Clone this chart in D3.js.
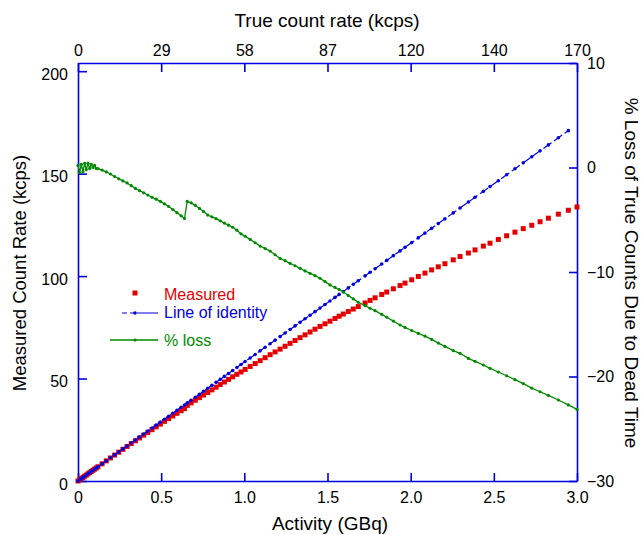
<!DOCTYPE html>
<html>
<head>
<meta charset="utf-8">
<script src="https://cdn.jsdelivr.net/npm/d3@7"></script>
<style>
body { margin: 0; background: #fff; }
text { font-family: "Liberation Sans", Arial, Helvetica, sans-serif; }
</style>
</head>
<body>
<svg></svg>
<script>
// activity of the source (GBq) at each measurement
let activity = [
    0, 0.01, 0.02, 0.03, 0.04, 0.05, 0.06, 0.07, 0.08, 0.09, 0.10, 0.11, 0.12,
    0.145, 0.17, 0.195, 0.22, 0.245, 0.27, 0.295, 0.32, 0.345, 0.37, 0.395, 0.42,
    0.445, 0.47, 0.495, 0.52, 0.545, 0.57, 0.595, 0.62, 0.64, 0.657, 0.68, 0.705,
    0.73, 0.755, 0.78, 0.805, 0.83, 0.855, 0.88, 0.905, 0.93, 0.955, 0.98,
    1.005, 1.035, 1.065, 1.095, 1.125, 1.155, 1.185, 1.215, 1.245, 1.275, 1.305,
    1.335, 1.365, 1.395, 1.425, 1.455, 1.485, 1.515, 1.545, 1.570, 1.595, 1.625,
    1.655, 1.685, 1.726, 1.756, 1.786, 1.826, 1.856, 1.896, 1.936, 1.966, 2.006,
    2.046, 2.086, 2.126, 2.166, 2.206, 2.256, 2.297, 2.347, 2.387, 2.437, 2.477,
    2.527, 2.577, 2.627, 2.677, 2.728, 2.778, 2.828, 2.888, 2.948, 3.0
];

// measured count rate (kcps)
let measured = [
    0, 0.58, 1.16, 1.73, 2.33, 2.89, 3.49, 4.06, 4.65, 5.22, 5.81, 6.37, 6.95,
    8.39, 9.82, 11.24, 12.65, 14.06, 15.46, 16.86, 18.24, 19.61, 20.98, 22.36, 23.72,
    25.07, 26.43, 27.78, 29.11, 30.43, 31.73, 33.02, 34.30, 35.31, 36.88, 38.11, 39.41,
    40.68, 41.94, 43.18, 44.49, 45.78, 47.06, 48.32, 49.59, 50.85, 52.07, 53.23,
    54.45, 55.90, 57.32, 58.73, 60.19, 61.63, 62.99, 64.34, 65.77, 67.17, 68.58,
    69.96, 71.33, 72.71, 74.10, 75.44, 76.72, 77.99, 79.32, 80.42, 81.48, 82.70,
    83.92, 85.12, 86.88, 88.13, 89.40, 91.03, 92.22, 93.80, 95.37, 96.58, 98.20,
    99.83, 101.47, 103.03, 104.52, 106.04, 107.92, 109.54, 111.26, 112.77, 114.64, 116.06,
    117.89, 119.68, 121.44, 123.16, 124.82, 126.54, 128.26, 130.23, 132.13, 133.72
];

// true count rate, line of identity (kcps)
let identity = [
    0, 0.58, 1.16, 1.74, 2.32, 2.90, 3.48, 4.06, 4.64, 5.22, 5.80, 6.38, 6.96,
    8.41, 9.86, 11.31, 12.76, 14.21, 15.66, 17.11, 18.56, 20.01, 21.46, 22.91, 24.36,
    25.81, 27.26, 28.71, 30.16, 31.61, 33.06, 34.51, 35.96, 37.12, 38.11, 39.44, 40.89,
    42.34, 43.79, 45.24, 46.69, 48.14, 49.59, 51.04, 52.49, 53.94, 55.39, 56.84,
    58.29, 60.03, 61.77, 63.51, 65.25, 66.99, 68.73, 70.47, 72.21, 73.95, 75.69,
    77.43, 79.17, 80.91, 82.65, 84.39, 86.13, 87.87, 89.61, 91.06, 92.51, 94.25,
    95.99, 97.73, 100.11, 101.85, 103.59, 105.91, 107.65, 109.97, 112.29, 114.03, 116.35,
    118.67, 120.99, 123.31, 125.63, 127.95, 130.85, 133.23, 136.13, 138.45, 141.35, 143.67,
    146.57, 149.47, 152.37, 155.27, 158.22, 161.12, 164.02, 167.50, 170.98, 174.00
];

// % loss of true counts due to dead time
let loss = [
    0.2, -0.5, 0.3, -0.4, 0.4, -0.2, 0.4, -0.1, 0.3, 0.0, 0.2, -0.1, -0.1,
    -0.25, -0.42, -0.62, -0.86, -1.08, -1.28, -1.48, -1.74, -2.0, -2.22, -2.42, -2.63,
    -2.85, -3.03, -3.24, -3.48, -3.73, -4.02, -4.32, -4.62, -4.88, -3.24, -3.38, -3.62,
    -3.92, -4.22, -4.55, -4.72, -4.90, -5.10, -5.32, -5.52, -5.72, -6.00, -6.35,
    -6.58, -6.88, -7.20, -7.52, -7.75, -8.00, -8.35, -8.70, -8.92, -9.17, -9.40,
    -9.65, -9.90, -10.13, -10.35, -10.60, -10.92, -11.24, -11.48, -11.68, -11.92, -12.25,
    -12.57, -12.90, -13.22, -13.47, -13.70, -14.05, -14.33, -14.70, -15.07, -15.30, -15.60,
    -15.88, -16.13, -16.45, -16.80, -17.12, -17.52, -17.78, -18.27, -18.55, -18.90, -19.22,
    -19.57, -19.93, -20.30, -20.68, -21.11, -21.46, -21.80, -22.25, -22.72, -23.15
];

let activityTicks = [0, 0.5, 1.0, 1.5, 2.0, 2.5, 3.0];
let activityLabels = ['0', '0.5', '1.0', '1.5', '2.0', '2.5', '3.0'];
let trueRateLabels = ['0', '29', '58', '87', '120', '140', '170'];
let rateTicks = [0, 50, 100, 150, 200];
let lossTicks = [-30, -20, -10, 0, 10];

let width = 641;
let height = 535;
let plotLeft = 78, plotRight = 577, plotTop = 63, plotBottom = 481;

let axisBlue = '#0000e0';
let red = '#e40000';
let blue = '#0000e0';
let green = '#008a00';

const svg = d3.select('svg')
    .attr('width', width)
    .attr('height', height);

let xScale = d3.scaleLinear().domain([0, 3]).range([plotLeft, plotRight]);
let yScale = d3.scaleLinear().domain([0, 204]).range([plotBottom, plotTop]);
let lossScale = d3.scaleLinear().domain([-30, 10]).range([plotBottom, plotTop]);

let points = activity.map((a, i) => {
    return { a: a, m: measured[i], t: identity[i], p: loss[i] };
});

let styleAxis = (g) => {
    g.attr('font-size', 16)
     .attr('font-family', '"Liberation Sans", Arial, sans-serif');
    g.select('.domain').attr('stroke', axisBlue).attr('stroke-width', 1.6);
    g.selectAll('.tick line').attr('stroke', axisBlue).attr('stroke-width', 1.6);
    g.selectAll('.tick text').attr('fill', '#000');
}

let drawAxes = () => {
    svg.append('g')
       .attr('transform', 'translate(0,' + plotBottom + ')')
       .call(d3.axisBottom(xScale).tickValues(activityTicks)
            .tickFormat((d, i) => activityLabels[i])
            .tickSizeInner(-8).tickSizeOuter(0).tickPadding(11))
       .call(styleAxis);

    svg.append('g')
       .attr('transform', 'translate(0,' + plotTop + ')')
       .call(d3.axisTop(xScale).tickValues(activityTicks)
            .tickFormat((d, i) => trueRateLabels[i])
            .tickSizeInner(-9).tickSizeOuter(0).tickPadding(7))
       .call(styleAxis);

    let yAxis = svg.append('g')
       .attr('transform', 'translate(' + plotLeft + ',0)')
       .call(d3.axisLeft(yScale).tickValues(rateTicks)
            .tickSizeInner(-9).tickSizeOuter(0).tickPadding(10))
       .call(styleAxis);
    yAxis.selectAll('.tick text').attr('dy', '0.52em');

    svg.append('g')
       .attr('transform', 'translate(' + plotRight + ',0)')
       .call(d3.axisRight(lossScale).tickValues(lossTicks)
            .tickSizeInner(-8).tickSizeOuter(0).tickPadding(10))
       .call(styleAxis);
}

let drawSeries = () => {
    // measured
    svg.append('g').selectAll('rect')
       .data(points)
       .enter()
       .append('rect')
       .attr('x', (d) => xScale(d.a) - 2.5)
       .attr('y', (d) => yScale(d.m) - 2.5)
       .attr('width', 5)
       .attr('height', 5)
       .attr('fill', red);

    // line of identity
    let idPoints = points.filter((d) => d.a <= 2.95);
    let idLine = d3.line()
        .x((d) => xScale(d.a))
        .y((d) => yScale(d.t));
    svg.append('path')
       .datum(idPoints)
       .attr('d', idLine)
       .attr('fill', 'none')
       .attr('stroke', blue)
       .attr('stroke-width', 1.2)
       .attr('stroke-dasharray', '10,3');
    svg.append('g').selectAll('circle')
       .data(idPoints)
       .enter()
       .append('circle')
       .attr('cx', (d) => xScale(d.a))
       .attr('cy', (d) => yScale(d.t))
       .attr('r', 1.8)
       .attr('fill', blue);

    // % loss
    let lossLine = d3.line()
        .x((d) => xScale(d.a))
        .y((d) => lossScale(d.p));
    svg.append('path')
       .datum(points)
       .attr('d', lossLine)
       .attr('fill', 'none')
       .attr('stroke', green)
       .attr('stroke-width', 1.3);
    svg.append('g').selectAll('circle')
       .data(points)
       .enter()
       .append('circle')
       .attr('cx', (d) => xScale(d.a))
       .attr('cy', (d) => lossScale(d.p))
       .attr('r', 1.6)
       .attr('fill', green);
}

let drawLegend = () => {
    let lg = svg.append('g').attr('font-size', 16);

    lg.append('rect').attr('x', 132.5).attr('y', 290.5).attr('width', 5).attr('height', 5).attr('fill', red);
    lg.append('text').attr('x', 164).attr('y', 300).attr('fill', red).text('Measured');

    lg.append('path').attr('d', 'M122,313H158')
      .attr('stroke', blue).attr('stroke-width', 1.2)
      .attr('stroke-dasharray', '5,3,4,3,40');
    lg.append('circle').attr('cx', 135).attr('cy', 313).attr('r', 1.8).attr('fill', blue);
    lg.append('text').attr('x', 164).attr('y', 318).attr('fill', blue).text('Line of identity');

    lg.append('path').attr('d', 'M110,340H158')
      .attr('stroke', green).attr('stroke-width', 1.3);
    lg.append('circle').attr('cx', 135).attr('cy', 340).attr('r', 1.6).attr('fill', green);
    lg.append('text').attr('x', 164).attr('y', 346).attr('fill', green).text('% loss');
}

let drawTitles = () => {
    svg.append('text')
       .attr('x', 327).attr('y', 27)
       .attr('text-anchor', 'middle').attr('font-size', 19)
       .text('True count rate (kcps)');

    svg.append('text')
       .attr('x', 330).attr('y', 530)
       .attr('text-anchor', 'middle').attr('font-size', 19)
       .text('Activity (GBq)');

    svg.append('text')
       .attr('transform', 'translate(26,273) rotate(-90)')
       .attr('text-anchor', 'middle').attr('font-size', 18.5)
       .text('Measured Count Rate (kcps)');

    svg.append('text')
       .attr('transform', 'translate(625,273) rotate(90)')
       .attr('text-anchor', 'middle').attr('font-size', 19)
       .text('% Loss of True Counts Due to Dead Time');
}

drawAxes();
drawSeries();
drawLegend();
drawTitles();
</script>
</body>
</html>
